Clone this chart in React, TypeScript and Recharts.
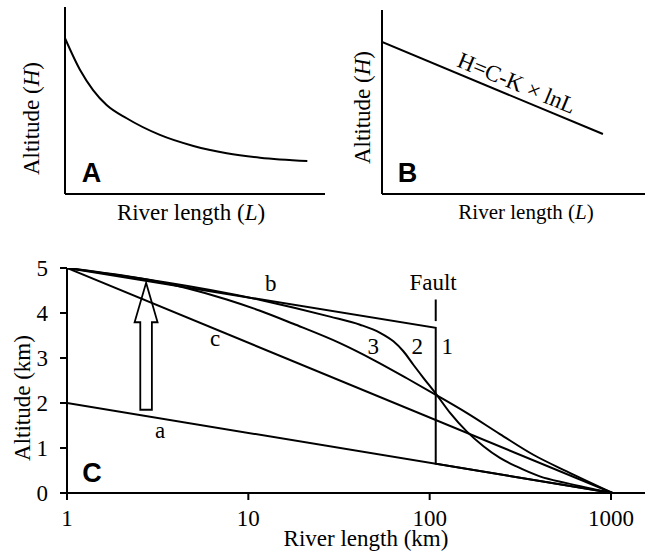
import type { ReactNode } from "react";
import { Line, LineChart, ReferenceDot, ReferenceLine, XAxis, YAxis } from "recharts";

const serif = '"Liberation Serif", "Times New Roman", serif';
const sans = '"Liberation Sans", Arial, sans-serif';
const ink = "#000";

// A: altitude falling off with river length (arbitrary units, linear axes)
const lengthA = [0, 0.58, 1.08, 1.6, 2.37, 3.65, 4.94, 6.22, 7.5, 9.32];
const altitudeA = [8.33, 6.63, 5.56, 4.76, 4.05, 3.16, 2.57, 2.18, 1.94, 1.76];

// B: the same profile as a straight line, H = C - K x lnL
const lengthB = [0, 8.4];
const altitudeB = [8.26, 3.26];

// C: river length (km, log axis) against altitude (km)
const lengthTicks = [1, 10, 100, 1000];
const altitudeTicks = [0, 1, 2, 3, 4, 5];

const lenProfileA = [1, 1020];
const altProfileA = [2, 0];
// b: uplifted profile, cut by the fault and dropping onto a
const lenProfileB = [1, 108, 108, 1020];
const altProfileB = [5, 3.67, 0.65, 0];
const lenProfileC = [1, 1020];
const altProfileC = [5, 0];
const lenStage2 = [1, 12, 28.2, 41.3, 53.3, 63.1, 71.6, 81.3, 92.3, 109.4, 129.6, 160, 198, 244, 301, 405, 570, 1020];
const altStage2 = [5, 4.28, 3.92, 3.74, 3.56, 3.37, 3.15, 2.85, 2.56, 2.18, 1.78, 1.37, 1.04, 0.78, 0.59, 0.37, 0.22, 0];
const lenStage3 = [1, 4.48, 7.6, 11.6, 17.7, 32, 48.9, 74.8, 109.4, 160, 244, 373, 570, 1020];
const altStage3 = [5, 4.56, 4.3, 4.05, 3.76, 3.33, 2.96, 2.55, 2.17, 1.78, 1.31, 0.85, 0.48, 0];
const faultLen = [108, 108];
const faultAlt = [4.3, 3.82];
// uplift arrow, from a up towards b
const upliftLen = 2.73;
const upliftFrom = 1.85;
const upliftTo = 4.67;

const zip = (l: number[], h: number[]) => l.map((L, i) => ({ L, H: h[i] }));

const axisLine = { stroke: ink, strokeWidth: 2 };

function Title({
  x,
  y,
  angle = 0,
  size = 23,
  children,
}: {
  x: number;
  y: number;
  angle?: number;
  size?: number;
  children: ReactNode;
}) {
  return (
    <text
      x={x}
      y={y}
      dy={angle ? "0.35em" : undefined}
      textAnchor="middle"
      fontFamily={serif}
      fontSize={size}
      fill={ink}
      transform={angle ? `rotate(${angle}, ${x}, ${y})` : undefined}
    >
      {children}
    </text>
  );
}

const note = (value: string, extra: Record<string, unknown> = {}) => ({
  value,
  position: "center" as const,
  fill: ink,
  fontFamily: serif,
  fontSize: 23,
  ...extra,
});

const letter = (value: string) => note(value, { fontFamily: sans, fontWeight: 700, fontSize: 27 });

function HollowArrow(props: any) {
  const { x1, y1, y2 } = props;
  const top = Math.min(y1, y2);
  const bottom = Math.max(y1, y2);
  const head = 39.4;
  const wing = 11.5;
  const shaft = 5.8;
  const pts = [
    [x1, top],
    [x1 + wing, top + head],
    [x1 + shaft, top + head],
    [x1 + shaft, bottom],
    [x1 - shaft, bottom],
    [x1 - shaft, top + head],
    [x1 - wing, top + head],
  ];
  return <polygon points={pts.map((p) => p.join(",")).join(" ")} fill="none" stroke={ink} strokeWidth={1.8} />;
}

const seriesProps = {
  dataKey: "H",
  stroke: ink,
  strokeWidth: 2,
  dot: false,
  activeDot: false,
  isAnimationActive: false,
} as const;

export default function App() {
  return (
    <div style={{ position: "absolute", left: 0, top: 0, width: 649, height: 556, background: "#fff" }}>
      <div style={{ position: "absolute", left: 0, top: 0 }}>
        <LineChart width={330} height={230} margin={{ top: 7, right: 5, bottom: 0, left: 0 }}>
          <XAxis
            type="number"
            dataKey="L"
            domain={[0, 10]}
            allowDataOverflow
            tick={false}
            tickLine={false}
            axisLine={axisLine}
            height={36}
            label={{
              content: () => (
                <Title x={191} y={220}>
                  River length (<tspan fontStyle="italic">L</tspan>)
                </Title>
              ),
            }}
          />
          <YAxis
            type="number"
            domain={[0, 10]}
            allowDataOverflow
            tick={false}
            tickLine={false}
            axisLine={axisLine}
            width={65}
            label={{
              content: () => (
                <Title x={31} y={118.5} angle={-90}>
                  Altitude (<tspan fontStyle="italic">H</tspan>)
                </Title>
              ),
            }}
          />
          <Line {...seriesProps} data={zip(lengthA, altitudeA)} type="monotone" />
          <ReferenceDot x={1.02} y={1.155} r={0} fill="none" stroke="none" label={letter("A")} />
        </LineChart>
      </div>

      <div style={{ position: "absolute", left: 320, top: 0 }}>
        <LineChart width={329} height={230} margin={{ top: 10, right: 4, bottom: 0, left: 0 }}>
          <XAxis
            type="number"
            dataKey="L"
            domain={[0, 10]}
            allowDataOverflow
            tick={false}
            tickLine={false}
            axisLine={axisLine}
            height={36}
            label={{
              content: () => (
                <Title x={206} y={219} size={21}>
                  River length (<tspan fontStyle="italic">L</tspan>)
                </Title>
              ),
            }}
          />
          <YAxis
            type="number"
            domain={[0, 10]}
            allowDataOverflow
            tick={false}
            tickLine={false}
            axisLine={axisLine}
            width={62}
            label={{
              content: () => (
                <Title x={42} y={107.5} angle={-90}>
                  Altitude (<tspan fontStyle="italic">H</tspan>)
                </Title>
              ),
            }}
          />
          <Line {...seriesProps} data={zip(lengthB, altitudeB)} type="linear" />
          <ReferenceDot x={5.13} y={6.06} r={0} fill="none" stroke="none" label={note("H=C-K × lnL", { angle: 22.6 })} />
          <ReferenceDot x={0.97} y={1.17} r={0} fill="none" stroke="none" label={letter("B")} />
        </LineChart>
      </div>

      <div style={{ position: "absolute", left: 0, top: 250 }}>
        <LineChart width={649} height={306} margin={{ top: 18, right: 4, bottom: 0, left: 0 }}>
          <XAxis
            type="number"
            dataKey="L"
            scale="log"
            domain={[1, 1540]}
            allowDataOverflow
            ticks={lengthTicks}
            tick={{ fill: ink, fontSize: 23, fontFamily: serif }}
            tickSize={7}
            tickMargin={10}
            tickLine={axisLine}
            axisLine={axisLine}
            height={63}
            label={{ content: () => <Title x={366} y={296}>River length (km)</Title> }}
          />
          <YAxis
            type="number"
            domain={[0, 5]}
            allowDataOverflow
            ticks={altitudeTicks}
            tick={{ fill: ink, fontSize: 23, fontFamily: serif }}
            tickSize={7}
            tickMargin={12}
            tickLine={axisLine}
            axisLine={axisLine}
            width={67}
            label={{ content: () => <Title x={22} y={148} angle={-90}>Altitude (km)</Title> }}
          />
          <Line {...seriesProps} data={zip(lenProfileA, altProfileA)} type="linear" />
          <Line {...seriesProps} data={zip(lenProfileC, altProfileC)} type="linear" />
          <Line {...seriesProps} data={zip(lenProfileB, altProfileB)} type="linear" />
          <Line {...seriesProps} data={zip(lenStage2, altStage2)} type="monotone" />
          <Line {...seriesProps} data={zip(lenStage3, altStage3)} type="monotone" />
          <Line {...seriesProps} data={zip(faultLen, faultAlt)} type="linear" />
          <ReferenceLine
            segment={[
              { x: upliftLen, y: upliftFrom },
              { x: upliftLen, y: upliftTo },
            ]}
            ifOverflow="visible"
            shape={HollowArrow}
          />
          <ReferenceDot x={13.3} y={4.66} r={0} fill="none" stroke="none" label={note("b")} />
          <ReferenceDot x={6.55} y={3.44} r={0} fill="none" stroke="none" label={note("c")} />
          <ReferenceDot x={3.26} y={1.41} r={0} fill="none" stroke="none" label={note("a")} />
          <ReferenceDot x={48.9} y={3.26} r={0} fill="none" stroke="none" label={note("3")} />
          <ReferenceDot x={85.5} y={3.26} r={0} fill="none" stroke="none" label={note("2")} />
          <ReferenceDot x={125.2} y={3.26} r={0} fill="none" stroke="none" label={note("1")} />
          <ReferenceDot x={104.4} y={4.69} r={0} fill="none" stroke="none" label={note("Fault")} />
          <ReferenceDot x={1.374} y={0.45} r={0} fill="none" stroke="none" label={letter("C")} />
        </LineChart>
      </div>
    </div>
  );
}
